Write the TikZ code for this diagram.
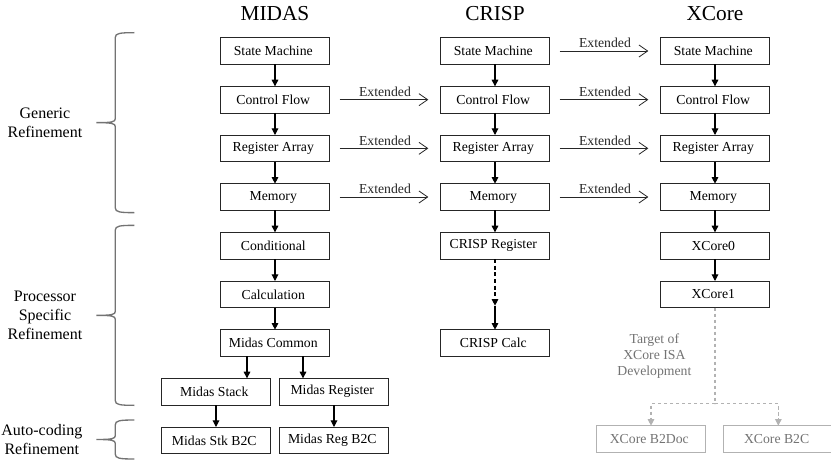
\documentclass[tikz,border=0pt]{standalone}
\usepackage{fontspec}
\setmainfont{Liberation Serif}
\usepackage{tikz}
\usetikzlibrary{positioning,calc,arrows.meta}

\begin{document}
\begin{tikzpicture}[
    font=\fontsize{10.3}{12}\selectfont,
    node distance=16.5pt and 83pt,
    >={Triangle[length=5pt,width=5pt]},
    stage/.style={draw=black!85, line width=0.6pt, outer sep=0pt, minimum width=82pt, minimum height=20pt, align=center},
    faded/.style={stage, draw=black!30, text=black!55},
    heading/.style={font=\fontsize{16}{19}\selectfont},
    flow/.style={->, line width=0.8pt},
    extarrow/.style={-{Straight Barb[length=6.5pt,width=9pt]}, line width=0.6pt, black!85, shorten <=7.5pt, shorten >=9pt},
    greyline/.style={draw=black!30, line width=0.8pt, dash pattern=on 2.5pt off 2pt},
    grpbrace/.style={draw=black!55, line width=1pt},
    grplabel/.style={left=7pt, font=\fontsize{12}{14}\selectfont, align=center},
    bracket/.pic={
        \draw[pic actions] (0,0) .. controls (-11pt,0) and (-14.25pt,-0.5pt) .. (-14.25pt,-3.5pt)
            -- (-14.25pt,{-#1/2+3pt}) .. controls (-14.25pt,{-#1/2+0.5pt}) and (-17pt,{-#1/2}) .. (-28.5pt,{-#1/2})
            .. controls (-17pt,{-#1/2}) and (-14.25pt,{-#1/2-0.5pt}) .. (-14.25pt,{-#1/2-3pt})
            -- (-14.25pt,{-#1+3.5pt}) .. controls (-14.25pt,{-#1+0.5pt}) and (-11pt,-#1) .. (0,-#1);
        \coordinate (-tip) at (-28.5pt,{-#1/2});
    }
]

\useasboundingbox (-206.25pt,-306.75pt) rectangle (417pt,38.25pt);

% MIDAS
\node[stage] (midasState) { State Machine };
\node[stage, below=of midasState] (midasFlow) { Control Flow };
\node[stage, below=of midasFlow] (midasReg) { Register Array };
\node[stage, below=of midasReg] (midasMem) { Memory };
\node[stage, below=of midasMem] (midasCond) { Conditional };
\node[stage, below=of midasCond] (midasCalc) { Calculation };
\node[stage, below=of midasCalc] (midasCommon) { Midas Common };
\node[stage, below=of midasCommon, xshift=-44.25pt] (midasStack) { Midas Stack };
\node[stage, right=6.5pt of midasStack] (midasRegister) { Midas Register };
\node[stage, below=of midasStack] (midasStkB2C) { Midas Stk B2C };
\node[stage, below=of midasRegister] (midasRegB2C) { Midas Reg B2C };

% CRISP
\node[stage, right=of midasState] (crispState) { State Machine };
\node[stage, below=of crispState] (crispFlow) { Control Flow };
\node[stage, below=of crispFlow] (crispReg) { Register Array };
\node[stage, below=of crispReg] (crispMem) { Memory };
\node[stage, below=of crispMem] (crispRegister) { CRISP Register };
\node[stage, below=53pt of crispRegister] (crispCalc) { CRISP Calc };

% XCore
\node[stage, right=of crispState] (xcoreState) { State Machine };
\node[stage, below=of xcoreState] (xcoreFlow) { Control Flow };
\node[stage, below=of xcoreFlow] (xcoreReg) { Register Array };
\node[stage, below=of xcoreReg] (xcoreMem) { Memory };
\node[stage, below=of xcoreMem] (xcoreZero) { XCore0 };
\node[stage, below=of xcoreZero] (xcoreOne) { XCore1 };
\node[faded, below=88.5pt of xcoreOne, xshift=-48pt] (xcoreDoc) { XCore B2Doc };
\node[faded, right=13.5pt of xcoreDoc] (xcoreB2C) { XCore B2C };

\node[heading, above=9.5pt of midasState] (midasTitle) { MIDAS };
\node[heading, above=9.5pt of crispState] (crispTitle) { CRISP };
\node[heading, above=9.5pt of xcoreState] (xcoreTitle) { XCore };

\draw[flow] (midasState) -- (midasFlow);
\draw[flow] (midasFlow) -- (midasReg);
\draw[flow] (midasReg) -- (midasMem);
\draw[flow] (midasMem) -- (midasCond);
\draw[flow] (midasCond) -- (midasCalc);
\draw[flow] (midasCalc) -- (midasCommon);

\coordinate (stackIn) at ([xshift=-21pt]midasCommon.south);
\coordinate (registerIn) at ([xshift=21pt]midasCommon.south);
\draw[flow] (stackIn) -- (stackIn |- midasStack.north);
\draw[flow] (registerIn) -- (registerIn |- midasRegister.north);
\draw[flow] (midasStack) -- (midasStkB2C);
\draw[flow] (midasRegister) -- (midasRegB2C);

\draw[flow] (crispState) -- (crispFlow);
\draw[flow] (crispFlow) -- (crispReg);
\draw[flow] (crispReg) -- (crispMem);
\draw[flow] (crispMem) -- (crispRegister);

\coordinate (crispStep) at ([yshift=18pt]crispCalc.north);
\draw[flow, dash pattern=on 3pt off 2pt] (crispRegister) -- (crispStep);
\draw[flow] (crispStep) -- (crispCalc);

\draw[flow] (xcoreState) -- (xcoreFlow);
\draw[flow] (xcoreFlow) -- (xcoreReg);
\draw[flow] (xcoreReg) -- (xcoreMem);
\draw[flow] (xcoreMem) -- (xcoreZero);
\draw[flow] (xcoreZero) -- (xcoreOne);

\draw[extarrow] (midasFlow) -- (crispFlow) node[midway, above, inner sep=2pt] { Extended };
\draw[extarrow] (midasReg) -- (crispReg) node[midway, above, inner sep=2pt] { Extended };
\draw[extarrow] (midasMem) -- (crispMem) node[midway, above, inner sep=2pt] { Extended };
\draw[extarrow] (crispState) -- (xcoreState) node[midway, above, inner sep=2pt] { Extended };
\draw[extarrow] (crispFlow) -- (xcoreFlow) node[midway, above, inner sep=2pt] { Extended };
\draw[extarrow] (crispReg) -- (xcoreReg) node[midway, above, inner sep=2pt] { Extended };
\draw[extarrow] (crispMem) -- (xcoreMem) node[midway, above, inner sep=2pt] { Extended };

\coordinate (xcoreSplit) at ($(xcoreDoc.north -| xcoreOne.south)+(0,16.5pt)$);
\draw[greyline] (xcoreOne) -- (xcoreSplit)
    node[midway, left=14pt, text=black!55, align=center] { Target of\\XCore ISA\\Development };
\draw[greyline, ->] (xcoreSplit) -| (xcoreDoc);
\draw[greyline, ->] (xcoreSplit) -| (xcoreB2C);

% group braces on the left
\coordinate (braceX) at ([xshift=-20.25pt]midasStack.west);
\pic[grpbrace] (genBrace) at ($(midasState.north -| braceX)+(0,3.75pt)$) {bracket=135pt};
\pic[grpbrace] (procBrace) at ($(midasCond.north -| braceX)+(0,5.25pt)$) {bracket=135pt};
\pic[grpbrace] (autoBrace) at ($(midasStkB2C.north -| braceX)+(0,5.25pt)$) {bracket=29.25pt};

\node[grplabel, left=7pt of genBrace-tip] (genLabel) { Generic\\Refinement };
\node[grplabel, left=7pt of procBrace-tip] (procLabel) { Processor\\Specific\\Refinement };
\node[grplabel, left=7pt of autoBrace-tip] (autoLabel) { Auto-coding\\Refinement };

\end{tikzpicture}
\end{document}
